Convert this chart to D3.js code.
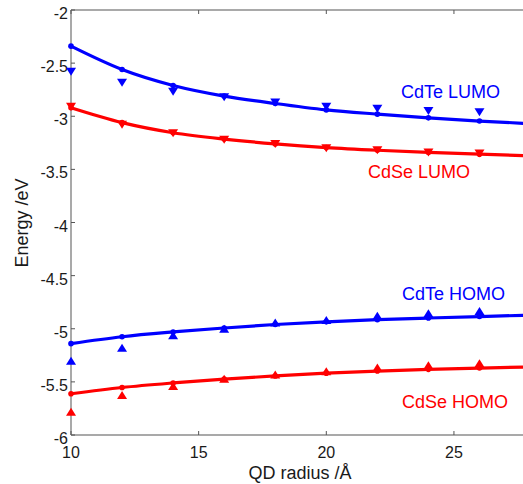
<!DOCTYPE html>
<html>
<head>
<meta charset="utf-8">
<script src="https://cdn.jsdelivr.net/npm/d3@7"></script>
<style>
  html, body { margin: 0; padding: 0; background: #fff; }
  svg { display: block; }
  text { font-family: "Liberation Sans", Arial, Helvetica, sans-serif; }
</style>
</head>
<body>
<svg id="chart" width="523" height="484"></svg>
<script>
// QD radius (Å) at which the energies were computed
const radii = [10, 12, 14, 16, 18, 20, 22, 24, 26];
// radii at which the fitted curves are sampled
const fitRadii = [10, 12, 14, 16, 18, 20, 22, 24, 26, 28];

// computed levels (eV)
const cdteLumo = [-2.58, -2.684, -2.769, -2.82, -2.87, -2.91, -2.93, -2.95, -2.963];
const cdseLumo = [-2.91, -3.08, -3.16, -3.22, -3.26, -3.30, -3.32, -3.34, -3.35];
const cdteHomo = [-5.30, -5.178, -5.06, -5.00, -4.94, -4.918, -4.877, -4.855, -4.833];
const cdseHomo = [-5.78, -5.624, -5.539, -5.47, -5.43, -5.40, -5.365, -5.344, -5.325];

// fitted curves (eV)
const cdteLumoFit = [-2.34, -2.56, -2.71, -2.81, -2.88, -2.94, -2.98, -3.015, -3.045, -3.07];
const cdseLumoFit = [-2.92, -3.06, -3.155, -3.215, -3.26, -3.295, -3.32, -3.34, -3.357, -3.372];
const cdteHomoFit = [-5.14, -5.075, -5.03, -4.993, -4.96, -4.935, -4.915, -4.899, -4.885, -4.872];
const cdseHomoFit = [-5.612, -5.553, -5.51, -5.474, -5.444, -5.418, -5.398, -5.382, -5.37, -5.36];

const seriesNames = ["CdTe LUMO", "CdSe LUMO", "CdTe HOMO", "CdSe HOMO"];
const xTicks = [10, 15, 20, 25];
const yTicks = [-6, -5.5, -5, -4.5, -4, -3.5, -3, -2.5, -2];

const svg = d3.select("#chart");
const x = d3.scaleLinear().domain([10, 30]).range([71, 581.6]);
const y = d3.scaleLinear().domain([-6, -2]).range([435, 10]);

const axisColor = "#8c8c8c";
const textColor = "#1a1a1a";

// frame: left, bottom and top edges
const frame = svg.append("g").attr("stroke", axisColor).attr("stroke-width", 1.5).attr("fill", "none");
frame.append("line").attr("x1", x(10)).attr("x2", x(10)).attr("y1", y(-2)).attr("y2", y(-6));
frame.append("line").attr("x1", x(10)).attr("x2", x(30)).attr("y1", y(-6)).attr("y2", y(-6));
frame.append("line").attr("x1", x(10)).attr("x2", x(30)).attr("y1", y(-2)).attr("y2", y(-2));

// inward ticks
const tickLen = 4;
const tickG = svg.append("g").attr("stroke", "#555").attr("stroke-width", 1);
xTicks.forEach(t => {
  tickG.append("line").attr("x1", x(t)).attr("x2", x(t)).attr("y1", y(-6)).attr("y2", y(-6) - tickLen);
  tickG.append("line").attr("x1", x(t)).attr("x2", x(t)).attr("y1", y(-2)).attr("y2", y(-2) + tickLen);
});
yTicks.forEach(t => {
  tickG.append("line").attr("x1", x(10)).attr("x2", x(10) + tickLen).attr("y1", y(t)).attr("y2", y(t));
});

// tick labels
const fmt = d => String(d);
svg.append("g").selectAll("text").data(xTicks).join("text")
  .attr("x", d => x(d)).attr("y", 458)
  .attr("text-anchor", "middle").attr("font-size", 16).attr("fill", textColor)
  .text(fmt);
svg.append("g").selectAll("text").data(yTicks).join("text")
  .attr("x", 68).attr("y", d => y(d) + 9)
  .attr("text-anchor", "end").attr("font-size", 16).attr("fill", textColor)
  .text(fmt);

// axis titles
svg.append("text").attr("x", 300).attr("y", 479).attr("text-anchor", "middle")
  .attr("font-size", 18).attr("fill", textColor).text("QD radius /Å");
svg.append("text").attr("transform", "translate(28,223) rotate(-90)").attr("text-anchor", "middle")
  .attr("font-size", 18).attr("fill", textColor).text("Energy /eV");

const series = [
  { name: seriesNames[0], color: "#0000ff", pts: cdteLumo, fit: cdteLumoFit, down: true,  lx: 401, ly: 98 },
  { name: seriesNames[1], color: "#ff0000", pts: cdseLumo, fit: cdseLumoFit, down: true,  lx: 368, ly: 178 },
  { name: seriesNames[2], color: "#0000ff", pts: cdteHomo, fit: cdteHomoFit, down: false, lx: 402, ly: 300 },
  { name: seriesNames[3], color: "#ff0000", pts: cdseHomo, fit: cdseHomoFit, down: false, lx: 402, ly: 408 }
];

const line = d3.line().x(d => x(d[0])).y(d => y(d[1])).curve(d3.curveMonotoneX);
const tri = down => down ? "M-5,-4L5,-4L0,4Z" : "M-5,4L5,4L0,-4Z";

series.forEach(s => {
  const g = svg.append("g");
  const fitPts = fitRadii.map((r, i) => [r, s.fit[i]]);
  g.append("path").attr("d", line(fitPts)).attr("fill", "none")
    .attr("stroke", s.color).attr("stroke-width", 3.2).attr("stroke-linejoin", "round");
  g.selectAll("circle").data(fitPts).join("circle")
    .attr("cx", d => x(d[0])).attr("cy", d => y(d[1])).attr("r", 2.8).attr("fill", s.color);
  g.selectAll("path.m").data(radii.map((r, i) => [r, s.pts[i]])).join("path")
    .attr("class", "m")
    .attr("transform", d => `translate(${x(d[0])},${y(d[1])})`)
    .attr("d", tri(s.down)).attr("fill", s.color);
  svg.append("text").attr("x", s.lx).attr("y", s.ly).attr("font-size", 18)
    .attr("fill", s.color).text(s.name);
});
</script>
</body>
</html>
